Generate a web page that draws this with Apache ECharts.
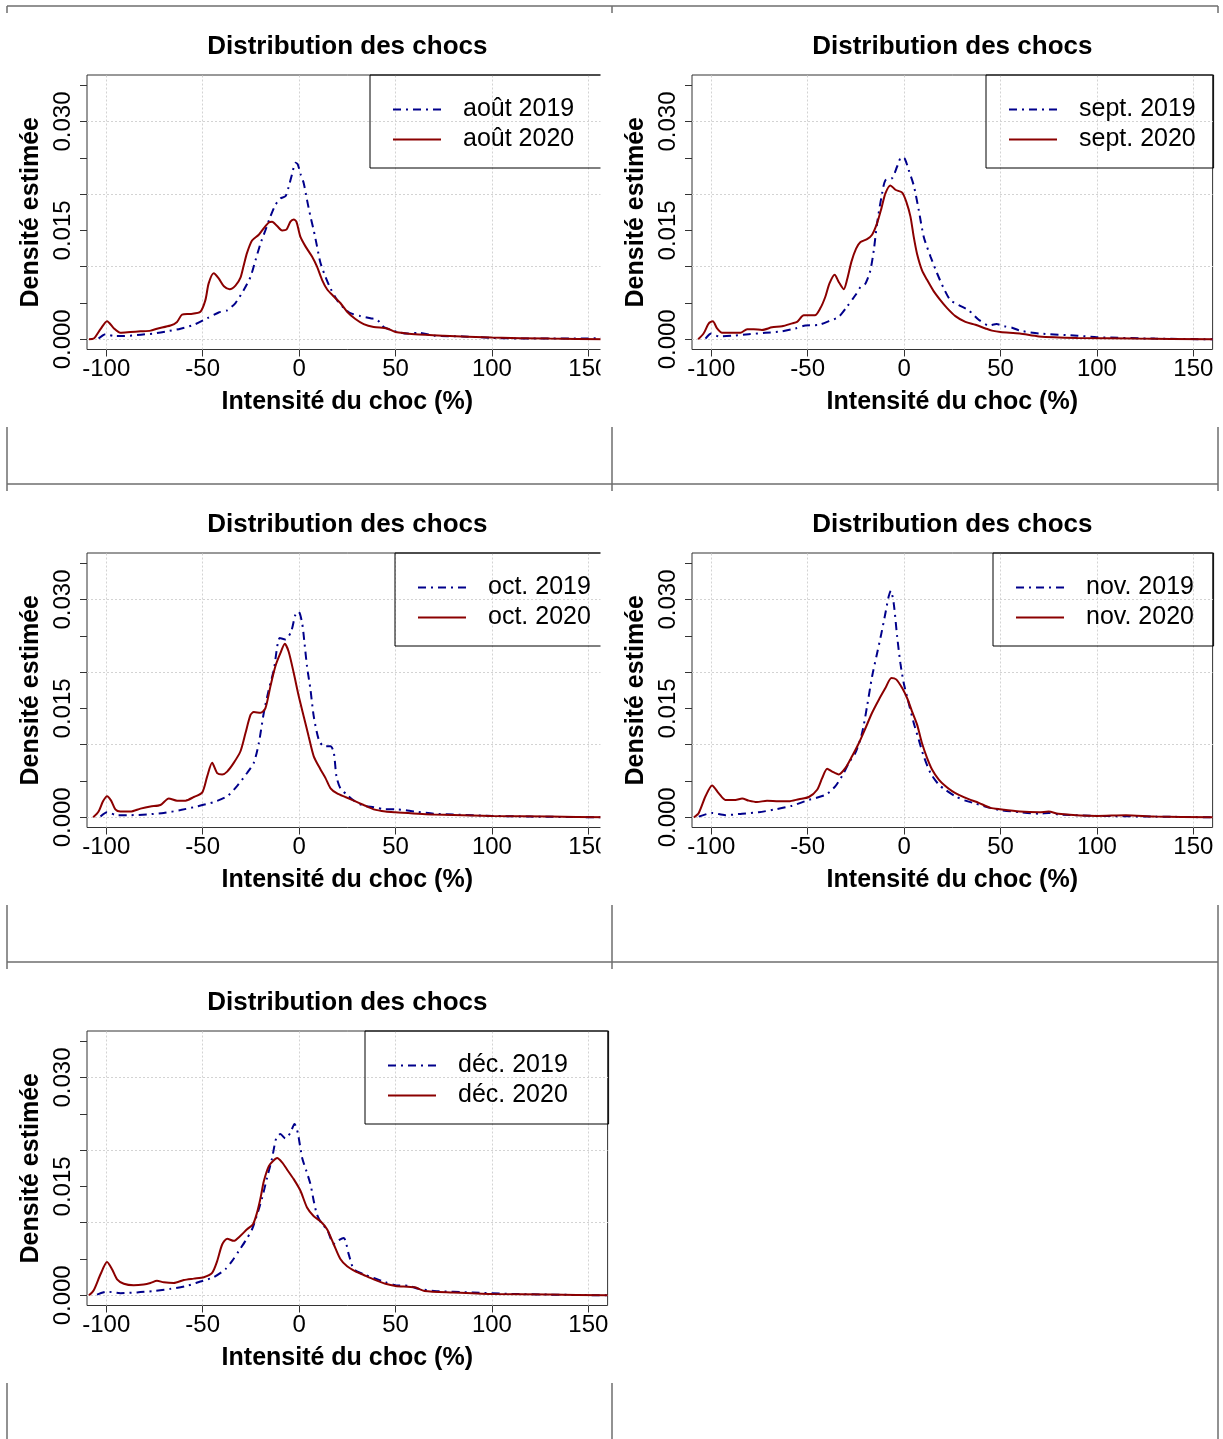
<!DOCTYPE html>
<html>
<head>
<meta charset="utf-8">
<script src="https://cdn.jsdelivr.net/npm/echarts@6/dist/echarts.min.js"></script>
<style>
  html, body { margin: 0; padding: 0; background: #fff; }
  #chart { width: 1223px; height: 1439px; }
</style>
</head>
<body>
<div id="chart"></div>
<script>
// Estimated shock-intensity densities, [intensity %, density]
const aout2019 = [[-104,0.0001],[-100.4,0.0007],[-96,0.00046],[-91,0.00046],[-82,0.00064],[-75.4,0.0008],[-68.5,0.0011],[-61.5,0.00147],[-54.6,0.002],[-47.7,0.0029],[-41.7,0.0037],[-37.3,0.004],[-33,0.005],[-28.7,0.0068],[-25.2,0.0086],[-22.6,0.0109],[-20,0.0132],[-17.5,0.015],[-14.9,0.0169],[-12.3,0.0185],[-9.7,0.0194],[-7.1,0.0197],[-5.4,0.021],[-3.6,0.0228],[-1.9,0.0243],[-0.7,0.0241],[0.7,0.0228],[2.4,0.0215],[4.1,0.0192],[5.9,0.0169],[7.6,0.015],[9.3,0.0128],[11.1,0.0105],[13.7,0.0086],[16.3,0.007],[19.7,0.0054],[23.2,0.0043],[26.6,0.0036],[31.8,0.0032],[37,0.0029],[40.5,0.0027],[43.9,0.0017],[50,0.0011],[56,0.0008],[62,0.0009],[70,0.0005],[85,0.0004],[100,0.0002],[120,0.0001],[150,0.0001],[160,0.0003]];
const aout2020 = [[-109,0],[-106.5,0.0001],[-103,0.0014],[-99.6,0.0025],[-96,0.0015],[-92.7,0.0009],[-87.5,0.001],[-82.3,0.0011],[-77,0.0012],[-73.7,0.00147],[-66.7,0.0019],[-63.3,0.0024],[-60.7,0.0034],[-56.4,0.0035],[-51.2,0.0038],[-48.6,0.0054],[-46.9,0.0077],[-44.3,0.0091],[-41.7,0.0084],[-39,0.0073],[-36,0.0069],[-33,0.0074],[-30.4,0.0085],[-28.7,0.0102],[-27,0.0119],[-24.4,0.0136],[-20.9,0.0144],[-18.3,0.0153],[-15.7,0.0161],[-14,0.0162],[-11.4,0.0156],[-8.8,0.015],[-6.6,0.0151],[-4.5,0.0162],[-2.8,0.0165],[-1.4,0.0162],[0.7,0.0141],[3.3,0.0128],[6.7,0.0114],[9.3,0.01],[11.9,0.0082],[14.5,0.0069],[18,0.0059],[21.4,0.005],[24.9,0.0038],[29.2,0.0028],[33.5,0.0021],[38.7,0.0017],[45.6,0.0015],[50,0.001],[60,0.0007],[75,0.0005],[100,0.00025],[130,0.0001],[160,0]];

const sept2019 = [[-103,0.0001],[-100,0.0008],[-96,0.0004],[-89,0.0005],[-80.6,0.0007],[-72,0.0009],[-63.3,0.0011],[-56.4,0.0015],[-51.2,0.0019],[-44.3,0.002],[-39,0.0025],[-33.9,0.0031],[-29.6,0.0045],[-25.2,0.0061],[-22.6,0.0072],[-20,0.0077],[-17.5,0.0095],[-15.7,0.0123],[-14,0.016],[-11.4,0.0201],[-9.7,0.0219],[-6.2,0.0222],[-3.6,0.0238],[-1.4,0.0251],[0.3,0.0249],[2.4,0.0233],[5,0.0212],[7.6,0.0178],[10.2,0.0141],[13.7,0.0114],[17.1,0.0091],[20.6,0.007],[24,0.0054],[28.4,0.0047],[33.5,0.004],[38.7,0.0027],[43.9,0.0019],[48,0.0021],[52,0.0018],[56,0.0016],[60,0.0012],[70,0.0008],[90,0.0005],[100,0.0003],[130,0.0001],[160,0]];
const sept2020 = [[-106.8,0],[-104,0.0008],[-101.3,0.0022],[-99.2,0.0025],[-97,0.0015],[-94.4,0.0009],[-89.2,0.0009],[-84.9,0.0009],[-81.4,0.0014],[-78,0.0014],[-73.7,0.0013],[-68.5,0.00165],[-63.3,0.0018],[-58,0.0022],[-55.5,0.0024],[-52,0.0033],[-46.3,0.0033],[-43.4,0.0043],[-40.8,0.0059],[-38.7,0.0077],[-36,0.0089],[-33.9,0.0079],[-31.3,0.0069],[-29.6,0.0082],[-27.3,0.0107],[-24.9,0.0125],[-22.6,0.0134],[-19.2,0.0138],[-16.6,0.0144],[-14,0.016],[-11.8,0.018],[-9.7,0.0201],[-7.1,0.0212],[-4.5,0.0206],[-1,0.0202],[1.2,0.0189],[3.3,0.0169],[5,0.0141],[6.7,0.0118],[9.3,0.0095],[11.9,0.0082],[15.4,0.0066],[18.8,0.0054],[22.3,0.0043],[26.6,0.0032],[31.8,0.0024],[37,0.002],[42.2,0.0015],[45.6,0.0012],[50,0.001],[60,0.0008],[70,0.0004],[90,0.0002],[120,0.0001],[160,0]];

const oct2019 = [[-103,0.0001],[-99.6,0.0007],[-94.4,0.0003],[-87.5,0.0003],[-78.8,0.0004],[-70.2,0.0006],[-61.5,0.001],[-52.9,0.0015],[-44.3,0.0021],[-37.3,0.0029],[-32.2,0.0043],[-27,0.0061],[-23.5,0.0075],[-20.9,0.0102],[-18.3,0.0144],[-15.7,0.0176],[-13.1,0.0203],[-10,0.0247],[-7.1,0.0245],[-4.1,0.0256],[-1.9,0.0279],[-0.2,0.0283],[1.6,0.0267],[2.8,0.024],[4.1,0.0208],[5.9,0.0176],[7.6,0.0139],[10.2,0.0107],[12.8,0.0098],[16.3,0.0098],[18,0.0089],[19.4,0.0056],[21.4,0.004],[24.9,0.0031],[28.4,0.0023],[33.5,0.0016],[38.7,0.0014],[44.8,0.0011],[50,0.0011],[60,0.0008],[70,0.0005],[80,0.0004],[100,0.0002],[120,0.0001],[160,0]];
const oct2020 = [[-106.8,0],[-104,0.0008],[-101.7,0.0022],[-99.6,0.0029],[-97.5,0.0023],[-95.3,0.0011],[-92.7,0.0008],[-87.5,0.0008],[-82.3,0.0012],[-77.1,0.0015],[-71.9,0.0017],[-67.6,0.0026],[-63.3,0.0023],[-58.9,0.0023],[-54.6,0.0028],[-50.3,0.0034],[-47.7,0.0056],[-45.1,0.0075],[-42.5,0.0061],[-39.9,0.0059],[-37.3,0.0063],[-33.9,0.0075],[-30.4,0.0091],[-27.8,0.0116],[-25.2,0.0141],[-23.5,0.0145],[-20,0.0144],[-17.5,0.015],[-14.9,0.018],[-12.3,0.0208],[-9.7,0.0226],[-7.4,0.0239],[-5.4,0.0228],[-2.8,0.0199],[-0.2,0.0167],[2.4,0.0139],[5,0.0111],[7.6,0.0084],[11.1,0.0066],[13.7,0.0054],[16.3,0.004],[19.7,0.0033],[24,0.0028],[28.4,0.0023],[33.5,0.0017],[38.7,0.0011],[44.8,0.0008],[50,0.0007],[70,0.0004],[100,0.0002],[130,0.0001],[160,0]];

const nov2019 = [[-106.5,0.0001],[-99.6,0.0006],[-92.7,0.0003],[-84,0.0005],[-75.4,0.0007],[-66.7,0.0011],[-58.1,0.0016],[-49.4,0.0024],[-40.8,0.0031],[-35.6,0.0043],[-31.3,0.0061],[-28.7,0.0075],[-25.2,0.0089],[-21.8,0.0116],[-19.2,0.0153],[-16.6,0.0194],[-14,0.0226],[-11.8,0.0253],[-9.7,0.0281],[-8,0.0304],[-6.9,0.0312],[-5.4,0.0295],[-3.6,0.0249],[-1.9,0.0212],[-0.2,0.0185],[2.4,0.0157],[5,0.013],[7.6,0.0107],[10.2,0.0084],[13.7,0.0061],[18,0.0045],[21.4,0.0038],[26.6,0.0029],[31.8,0.0023],[37,0.0019],[44.8,0.0013],[50,0.001],[60,0.0007],[70,0.0005],[75,0.0006],[80,0.0004],[100,0.0002],[130,0.0001],[160,0]];
const nov2020 = [[-109,0],[-106.5,0.0006],[-103,0.0029],[-99.6,0.0044],[-96.1,0.0033],[-92.7,0.0024],[-87.5,0.0024],[-84,0.0026],[-80.6,0.0023],[-76.3,0.0021],[-71.1,0.0023],[-65,0.0022],[-59.8,0.0022],[-54.6,0.0025],[-49.4,0.0028],[-45.1,0.0038],[-42.5,0.0054],[-39.9,0.0067],[-37.3,0.0063],[-33.9,0.0059],[-30.4,0.0068],[-27,0.0084],[-23.5,0.0102],[-20,0.0123],[-16.6,0.0144],[-13.1,0.0162],[-9.7,0.0178],[-6.6,0.0192],[-4.1,0.019],[-1,0.0178],[1.6,0.0164],[4.1,0.0146],[6.7,0.0128],[9.3,0.0102],[11.9,0.0082],[14.5,0.0066],[18,0.0052],[21.4,0.0043],[24.9,0.0036],[28.4,0.0031],[33.5,0.0025],[38.7,0.002],[44.8,0.0013],[50,0.0011],[60,0.0008],[70,0.0007],[75,0.0008],[80,0.0005],[100,0.0002],[115,0.0003],[130,0.0001],[160,0]];

const dec2019 = [[-104.8,0.0001],[-99.6,0.0005],[-92.7,0.0003],[-84,0.0004],[-75.4,0.0006],[-66.7,0.0009],[-58.1,0.0013],[-51.2,0.0019],[-44.3,0.0025],[-38.2,0.0036],[-34.8,0.0047],[-31.3,0.0061],[-27.8,0.0075],[-24.4,0.0091],[-21.8,0.0111],[-19.2,0.0134],[-16.6,0.0162],[-14,0.0189],[-11.8,0.0217],[-9.7,0.0222],[-7.1,0.0216],[-4.5,0.0224],[-2.4,0.0236],[-0.7,0.0224],[1.6,0.0189],[3.8,0.0171],[5.9,0.0153],[7.6,0.013],[9.3,0.0111],[11.9,0.0098],[14.5,0.0091],[18,0.0071],[20.6,0.0076],[23.2,0.0079],[25.8,0.0056],[28.4,0.0036],[33.5,0.0029],[38.7,0.0024],[44.8,0.0018],[50,0.0014],[57,0.0013],[62,0.0009],[70,0.0006],[90,0.0004],[110,0.0002],[130,0.0001],[160,0]];
const dec2020 = [[-109,0],[-106.5,0.0007],[-103,0.0029],[-99.6,0.0046],[-97,0.0036],[-94.4,0.0022],[-90.9,0.0016],[-85.8,0.0014],[-80.6,0.0015],[-77.1,0.0017],[-73.7,0.002],[-70.2,0.0018],[-65,0.0017],[-59.8,0.0021],[-54.6,0.0023],[-49.4,0.0025],[-45.1,0.0031],[-42.5,0.0047],[-39.9,0.007],[-37.3,0.0078],[-33.9,0.0075],[-30.4,0.0082],[-27,0.0091],[-23.9,0.0098],[-21.8,0.0114],[-20,0.0134],[-18.3,0.0157],[-15.7,0.0178],[-13.5,0.0185],[-11.4,0.0189],[-8.8,0.0183],[-6.2,0.0173],[-2.8,0.016],[0.7,0.0144],[4.1,0.0121],[7.6,0.0109],[11.1,0.0102],[14.5,0.0091],[18,0.007],[21.4,0.005],[24.9,0.004],[29.2,0.0033],[33.5,0.0028],[38.7,0.0022],[44.8,0.0016],[50,0.0013],[60,0.0011],[65,0.0006],[80,0.0004],[100,0.0002],[130,0.0001],[160,0]];

// Month labels and tick values
const monthLabels = ['août', 'sept.', 'oct.', 'nov.', 'déc.'];
const series2019 = [aout2019, sept2019, oct2019, nov2019, dec2019];
const series2020 = [aout2020, sept2020, oct2020, nov2020, dec2020];
const xTicks = [-100, -50, 0, 50, 100, 150];
const yTicks = [0, 0.005, 0.010, 0.015, 0.020, 0.025, 0.030, 0.035];
const yTickLabels = [0, 0.015, 0.030];

// Page layout (pixels)
const FONT = '"Liberation Sans", Arial, sans-serif';
const PLOT_W = 520.6, PLOT_H = 274.5;
const COL_LEFT = [87, 692];
const ROW_TOP = [75, 553, 1031];
const ROW_STEP = 478;
const LEGEND_LEFT = [370, 986, 395, 993, 365];
const LEGEND_FONT = 25;
const BLUE = '#00008B', RED = '#8B0000';

const measureCtx = document.createElement('canvas').getContext('2d');
measureCtx.font = LEGEND_FONT + 'px "Liberation Sans"';
const textWidth = s => measureCtx.measureText(s).width;

const grids = [], xAxes = [], yAxes = [], series = [], legends = [], titles = [];

monthLabels.forEach((m, i) => {
  const row = Math.floor(i / 2), col = i % 2;
  const left = COL_LEFT[col], top = ROW_TOP[row];
  const plotRight = left + PLOT_W;
  const name19 = m + ' 2019', name20 = m + ' 2020';

  grids.push({
    left: left, top: top, width: PLOT_W, height: PLOT_H,
    show: true, borderColor: '#333', borderWidth: 1, backgroundColor: 'transparent'
  });

  titles.push({
    text: 'Distribution des chocs',
    left: left + PLOT_W / 2, top: top - 28,
    padding: 0, textAlign: 'center', textVerticalAlign: 'middle',
    textStyle: { fontFamily: FONT, fontSize: 26, fontWeight: 'bold', color: '#000' }
  });

  xAxes.push({
    type: 'value', gridIndex: i, min: -110, max: 160, position: 'bottom',
    name: 'Intensité du choc (%)', nameLocation: 'middle', nameGap: 40,
    nameTextStyle: { fontFamily: FONT, fontSize: 25, fontWeight: 'bold', color: '#000' },
    axisLine: { show: false, onZero: false },
    axisTick: { show: true, customValues: xTicks, length: 7, lineStyle: { color: '#333', width: 1 } },
    axisLabel: { customValues: xTicks, margin: 8, fontFamily: FONT, fontSize: 24, color: '#000' },
    splitLine: { show: false }
  });

  yAxes.push({
    type: 'value', gridIndex: i, min: -0.0014, max: 0.0364, position: 'left',
    name: 'Densité estimée', nameLocation: 'middle', nameGap: 43,
    nameTextStyle: { fontFamily: FONT, fontSize: 25, fontWeight: 'bold', color: '#000' },
    axisLine: { show: false, onZero: false },
    axisTick: { show: true, customValues: yTicks, length: 7, lineStyle: { color: '#333', width: 1 } },
    axisLabel: {
      customValues: yTickLabels, rotate: 90, margin: 12,
      fontFamily: FONT, fontSize: 24, color: '#000',
      formatter: v => Number(v).toFixed(3)
    },
    splitLine: { show: false }
  });

  // dotted reference grid at the tick positions
  series.push({
    type: 'line', xAxisIndex: i, yAxisIndex: i, data: [], silent: true,
    markLine: {
      z: 1, silent: true, symbol: ['none', 'none'], label: { show: false },
      lineStyle: { color: '#d3d3d3', type: [2, 2], width: 1 },
      emphasis: { disabled: true },
      data: xTicks.map(v => ({ xAxis: v })).concat(yTicks.map(v => ({ yAxis: v })))
    }
  });

  series.push({
    name: name19, type: 'line', xAxisIndex: i, yAxisIndex: i,
    data: series2019[i], symbol: 'none', smooth: 0.25, z: 3,
    lineStyle: { color: BLUE, width: 2, type: [8, 5, 2, 5] },
    itemStyle: { color: BLUE }
  });
  series.push({
    name: name20, type: 'line', xAxisIndex: i, yAxisIndex: i,
    data: series2020[i], symbol: 'none', smooth: 0.25, z: 4,
    lineStyle: { color: RED, width: 2 },
    itemStyle: { color: RED }
  });

  const boxLeft = LEGEND_LEFT[i];
  const content = 48 + 5 + 17 + Math.max(textWidth(name19), textWidth(name20));
  const padRight = Math.max(4, (plotRight - boxLeft) - 22 - content);
  legends.push({
    data: [name19, name20], orient: 'vertical', left: boxLeft, top: top,
    padding: [22, padRight, 16, 22], itemGap: 5, itemWidth: 48, itemHeight: 24,
    borderColor: '#000', borderWidth: 1, selectedMode: false,
    itemStyle: { opacity: 0 },
    textStyle: { fontFamily: FONT, fontSize: LEGEND_FONT, color: '#000', lineHeight: 24, padding: [0, 0, 0, 17] }
  });
});

// Table cell borders around the panels
const graphics = [];
const FRAME = '#6e6e6e';
const addLine = (x1, y1, x2, y2) => graphics.push({
  type: 'line', silent: true, z: 50,
  shape: { x1, y1, x2, y2 }, style: { stroke: FRAME, lineWidth: 1.5 }
});
[6, 484, 962].forEach(y => addLine(7, y, 1218, y));
for (let r = 0; r < 3; r++) {
  const off = r * ROW_STEP;
  [7, 612, 1218].forEach(x => {
    if (r === 2 && x === 1218) { addLine(x, 962, x, 1440); return; }
    addLine(x, 6 + off, x, 13 + off);
    addLine(x, 427 + off, x, 484 + off + (r === 2 ? 1 : 0));
  });
}
// the two left-column panels of the first rows are cut at their right side
[0, 1].forEach(r => graphics.push({
  type: 'rect', silent: true, z: 100,
  shape: { x: 600.5, y: 14 + r * ROW_STEP, width: 10.5, height: 412 },
  style: { fill: '#fff' }
}));

const chart = echarts.init(document.getElementById('chart'), null, { renderer: 'canvas' });
chart.setOption({
  animation: false,
  backgroundColor: '#fff',
  title: titles,
  grid: grids,
  xAxis: xAxes,
  yAxis: yAxes,
  legend: legends,
  series: series,
  graphic: graphics
});
</script>
</body>
</html>
